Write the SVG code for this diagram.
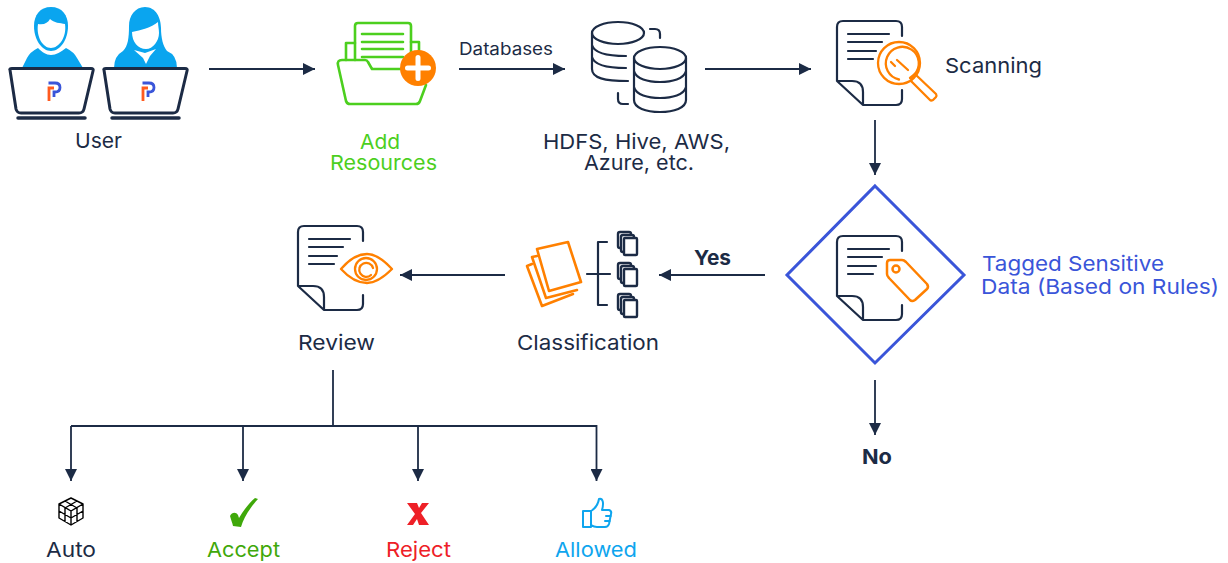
<svg xmlns="http://www.w3.org/2000/svg" width="1228" height="563" viewBox="0 0 1228 563">
<style>
text{font-family:"Inter","Noto Sans","Liberation Sans",sans-serif;font-size:20.500px;fill:#1c2b45;text-anchor:start}
.b{font-weight:700}
.d{fill:none;stroke:#1c2b45;stroke-width:2.200;stroke-linecap:round;stroke-linejoin:round}
.o{fill:none;stroke:#ff8000;stroke-width:2.300;stroke-linecap:round;stroke-linejoin:round}
.g{fill:none;stroke:#4ccf1e;stroke-width:2.600;stroke-linecap:round;stroke-linejoin:round}
.c{fill:none;stroke:#1c2b45;stroke-width:1.800}
.lap{fill:#fff;stroke:#1c2b45;stroke-width:3;stroke-linejoin:round}
.hb{fill:#0aa5ef}
.w{fill:#fff}
</style>
<defs>
<marker id="ah" viewBox="0 0 12 12" refX="12" refY="6" markerWidth="12" markerHeight="12" markerUnits="userSpaceOnUse" orient="auto"><path d="M0 0L12 6L0 12Z" fill="#1c2b45"/></marker>
<symbol id="doc" overflow="visible">
<path class="d" d="M65 15V6Q65 0 59 0H6Q0 0 0 6V60L26 84H59Q65 84 65 78V69M0 60H15Q26 60 26 71V84"/>
<path class="d" d="M11 13H52M11 21H45M11 30H39M11 38H36"/>
</symbol>
<g id="laptop">
<path class="lap" d="M10 70Q9 68.500 12 68.500H91Q94 68.500 93 71L84 109Q83 113 79 113H21Q17 113 16 109Z"/>
<path d="M18 118H85" stroke="#1c2b45" stroke-width="3.500" stroke-linecap="round"/>
<path d="M49 101V88H54" fill="none" stroke="#ff5a1f" stroke-width="2.800"/>
<path d="M48.500 83H55Q60 83 60 87.500Q60 92 55 92H54V97" fill="none" stroke="#3a55d9" stroke-width="2.800"/>
</g>
<g id="stack"><rect x="618" y="232" width="13" height="16" rx="2" fill="#fff" stroke="#1c2b45" stroke-width="2.400"/><rect x="621" y="235" width="13" height="17" rx="2" fill="#fff" stroke="#1c2b45" stroke-width="2.400"/><rect x="624" y="238" width="13" height="17" rx="1" fill="#fff" stroke="#1c2b45" stroke-width="2.400"/></g>
</defs>

<g id="connectors" class="c">
<path class="c" marker-end="url(#ah)" d="M209 69H315"/>
<path class="c" marker-end="url(#ah)" d="M459 69H565"/>
<path class="c" marker-end="url(#ah)" d="M705 69H811"/>
<path class="c" marker-end="url(#ah)" d="M875 120V175"/>
<path class="c" marker-end="url(#ah)" d="M875 380V435"/>
<path class="c" marker-end="url(#ah)" d="M765 275H659"/>
<path class="c" marker-end="url(#ah)" d="M505 275H400"/>
<path class="c" d="M333 370V426"/>
<path class="c" marker-end="url(#ah)" d="M71 426V481"/>
<path class="c" marker-end="url(#ah)" d="M71 426H596.500V481"/>
<path class="c" marker-end="url(#ah)" d="M243 426V481"/>
<path class="c" marker-end="url(#ah)" d="M418 426V481"/>
</g>

<g id="user">
<path class="hb" d="M51 7C62 7 68 15 68 26C68 40 60 51 51 51C42 51 34 40 34 26C34 15 40 7 51 7Z"/>
<path class="w" d="M38 24C44 25 48 23 50 19C54 23 60 23 65 24C67 37 59 48 51 48C43 48 36 37 38 24Z"/>
<path class="hb" d="M22 68L27 58Q30 52 38 48C42 52 46 55 51 55C56 55 61 52 66 48Q74 52 77 58L83 68Z"/>
<path class="hb" d="M145 7C156 7 161 18 161 28C161 38 163 46 167 51Q177 55 177 68H114Q114 56 123 51C128 46 129 38 129 26C129 16 135 7 145 7Z"/>
<path class="w" d="M132 32C141 30 151 28 158 22C158 26 159 29 159 33C159 41 153 49 146 49C138 49 132 42 132 32Z"/>
<path class="w" d="M134 50L145 53L156 49L150 56L146 64L143 58Z"/>
<use href="#laptop"/>
<use href="#laptop" x="94"/>
<text x="75" y="148" textLength="47" lengthAdjust="spacingAndGlyphs">User</text>
</g>

<g id="add-resources">
<path class="g" d="M346 60V43H355M411 42H419V53"/>
<path class="g" d="M355 60V26Q355 23 358 23H408Q411 23 411 26V60"/>
<path class="g" d="M362 34H403M362 42H403M362 49H403M362 57H403"/>
<path class="g" d="M373 69H402M426 85L420 101Q419 104 416 104H350Q347 104 346 101L338 65Q337 60 342 60H365Q367 60 368 62L372 69"/>
<circle cx="418" cy="68" r="18" fill="#ff8000"/>
<path d="M407.500 68H428.500M418 57.500V78.500" stroke="#fff" stroke-width="5" stroke-linecap="round"/>
<text style="fill:#4ccf1e"><tspan x="360" y="149" textLength="40" lengthAdjust="spacingAndGlyphs">Add</tspan><tspan x="330" y="170" textLength="107" lengthAdjust="spacingAndGlyphs">Resources</tspan></text>
</g>

<g id="databases">
<text x="459" y="55" style="font-size:17px" textLength="94" lengthAdjust="spacingAndGlyphs">Databases</text>
<ellipse class="d" cx="618" cy="33" rx="26" ry="11"/>
<path class="d" d="M592 33V69C592 78 604 81 628 81M592 45C594 53 608 56 626 56M592 57C594 65 608 68 626 68"/>
<path class="d" d="M650 29H655Q660 29 660 34V38M618 93V99Q618 104 623 104H628"/>
<ellipse class="d" cx="660" cy="58" rx="26" ry="11"/>
<path class="d" d="M634 58V100C634 108 646 112 660 112C674 112 686 108 686 100V58M634 71C636 79 648 82 660 82C672 82 684 79 686 71M634 87C636 95 648 98 660 98C672 98 684 95 686 87"/>
<text><tspan x="543" y="149" textLength="187" lengthAdjust="spacingAndGlyphs">HDFS, Hive, AWS,</tspan><tspan x="584" y="170" textLength="110" lengthAdjust="spacingAndGlyphs">Azure, etc.</tspan></text>
</g>

<g id="scanning">
<use href="#doc" x="837" y="21"/>
<circle cx="899" cy="63" r="21" fill="#fff" stroke="#ff8000" stroke-width="2.300"/>
<path class="o" d="M914 75A16.500 16.500 0 1 0 899 79.500"/>
<path class="o" d="M891 62L895 66M897 60L908 70M910 78L915 74M912 79L916 75L936 94Q937 96 936 97L933 100Q931 101 930 100L911 81Z"/>
<text x="945" y="73" textLength="97" lengthAdjust="spacingAndGlyphs">Scanning</text>
</g>

<g id="tagged">
<path d="M875 186L964 275L875 363L787 275Z" fill="none" stroke="#3a55d9" stroke-width="3"/>
<use href="#doc" x="837" y="236"/>
<path class="o" d="M890 260H902Q904 260 906 262L927 284Q929 287 927 289L915 300Q912 302 910 300L889 278Q887 276 887 274V263Q887 260 890 260Z" style="stroke-width:2.500"/>
<circle cx="896" cy="269" r="3.500" class="o" style="stroke-width:2.500"/>
<text x="982" y="271" textLength="182" lengthAdjust="spacingAndGlyphs" style="fill:#3a55d9">Tagged Sensitive</text>
<text x="981" y="294" textLength="238" lengthAdjust="spacingAndGlyphs" style="fill:#3a55d9">Data (Based on Rules)</text>
</g>

<text id="yes" class="b" x="694" y="265" textLength="37" lengthAdjust="spacingAndGlyphs">Yes</text>
<text id="no" class="b" x="862" y="464" textLength="30" lengthAdjust="spacingAndGlyphs">No</text>

<g id="classification">
<path class="o" style="stroke-width:2.600" d="M537 249L568 242L581 282L549 291Z"/>
<path class="o" style="stroke-width:2.600" d="M537 256L532 257L546 298L577 290"/>
<path class="o" style="stroke-width:2.600" d="M532 264L527 266L542 306L573 294"/>
<path class="d" d="M587 274H610M607 242H598V305H607"/>
<use href="#stack"/><use href="#stack" y="31"/><use href="#stack" y="62"/>
<text x="517" y="350" textLength="142" lengthAdjust="spacingAndGlyphs">Classification</text>
</g>

<g id="review">
<use href="#doc" x="298" y="226"/>
<path d="M341 269C351 257 360 254 367 254C374 254 382 258 392 269C382 279 374 283 367 283C360 283 351 280 341 269Z" fill="#fff" stroke="#ff8000" stroke-width="2.300" stroke-linejoin="round"/>
<circle class="o" cx="366" cy="269" r="11"/>
<path class="o" d="M371 275A7 7 0 1 1 373 268"/>
<text x="298" y="350" textLength="77" lengthAdjust="spacingAndGlyphs">Review</text>
</g>

<g id="auto">
<path fill="none" stroke="#000" stroke-width="1.400" stroke-linejoin="round" d="M71 498L83 504V518L71 525L59 518V504ZM59 504L71 511L83 504M71 511V525M59 511L71 518L83 511M65 501L77 508M77 501L65 508M65 507V522M77 507V522"/>
<text x="46" y="557" textLength="50" lengthAdjust="spacingAndGlyphs">Auto</text>
</g>
<g id="accept">
<path fill="#3fa80a" d="M255 498L258 499C250 508 244 517 241 527L233 526C232.500 523 231 520 230 516C232 512 236 512 238 515L239 518C243 511 249 503 255 498Z"/>
<text x="207" y="557" textLength="73" lengthAdjust="spacingAndGlyphs" style="fill:#3fa80a">Accept</text>
</g>
<g id="reject">
<path fill="#ee2027" d="M407 503H417L419 508L422 503H429L421 513L429 525H419L417 519L413 525H407L415 514Z"/>
<text x="386" y="557" textLength="65" lengthAdjust="spacingAndGlyphs" style="fill:#ee2027">Reject</text>
</g>
<g id="allowed">
<path fill="none" stroke="#0ea5ee" stroke-width="2" stroke-linejoin="round" stroke-linecap="round" d="M583 511H591V527H583ZM591 511C596 508 598 505 599 499C603 498 604 503 602 510H609Q612 511 611 514L609 524Q608 527 605 527H597Q594 527 591 525M606 516H611M605 521H610"/>
<text x="555" y="557" textLength="82" lengthAdjust="spacingAndGlyphs" style="fill:#0ea5ee">Allowed</text>
</g>
</svg>
